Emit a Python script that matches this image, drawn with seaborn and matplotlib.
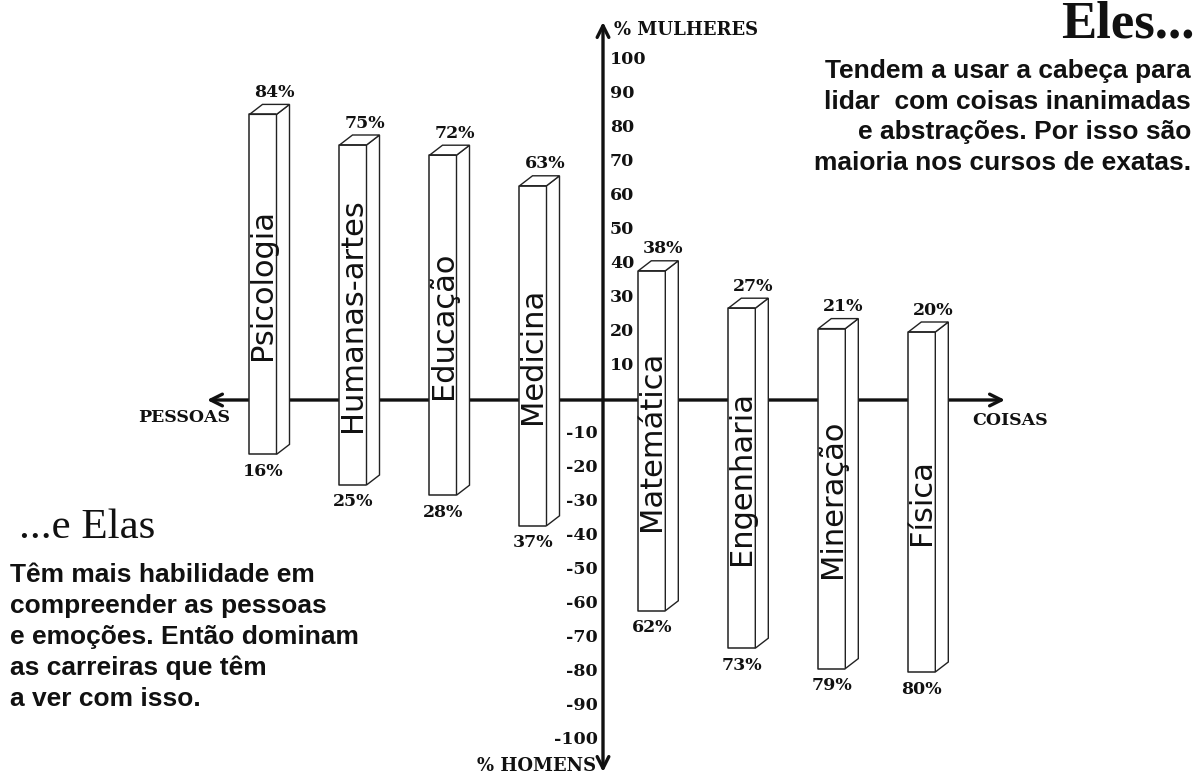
import numpy as np
import pandas as pd
import matplotlib
matplotlib.use("Agg")
import matplotlib.pyplot as plt
import seaborn as sns

# dados: % de mulheres (acima) e % de homens (abaixo) por curso
cursos = ["Psicologia", "Humanas-artes", "Educação", "Medicina",
          "Matemática", "Engenharia", "Mineração", "Física"]
mulheres = [84, 75, 72, 63, 38, 27, 21, 20]
homens = [16, 25, 28, 37, 62, 73, 79, 80]
ticks_pos = [10, 20, 30, 40, 50, 60, 70, 80, 90, 100]
ticks_neg = [-10, -20, -30, -40, -50, -60, -70, -80, -90, -100]

texto_eles = ("Tendem a usar a cabeça para\nlidar  com coisas inanimadas\n"
              "e abstrações. Por isso são\nmaioria nos cursos de exatas.")
texto_elas = ("Têm mais habilidade em\ncompreender as pessoas\n"
              "e emoções. Então dominam\nas carreiras que têm\na ver com isso.")

# layout em pixels da imagem -> unidades de dados
W, H = 1196, 774
X0, UX = 263, 90      # centro da 1a barra, px por posicao
Y0, UY = 400, 3.4     # linha do zero, px por ponto percentual


def px_x(px):
    return (px - X0) / UX


def px_y(py):
    return (Y0 - py) / UY


gap = 0.32  # espaco extra onde passa o eixo vertical
pos = np.arange(len(cursos)) + gap * (np.arange(len(cursos)) >= 4)
df = pd.DataFrame({"curso": cursos, "pos": pos,
                   "mulheres": mulheres, "homens_neg": [-h for h in homens]})

sns.set_theme(style="white")
SERIF_B = dict(family="DejaVu Serif", weight="bold", color="#111111")

fig = plt.figure(figsize=(W / 100, H / 100), dpi=100)
ax = fig.add_axes([0, 0, 1, 1])

# faces frontais das barras
for col in ["mulheres", "homens_neg"]:
    sns.barplot(data=df, x="pos", y=col, native_scale=True, width=0.3,
                color="white", saturation=1, linewidth=0, errorbar=None,
                ax=ax, zorder=3)

hw = 0.15
ddx, ddy = 13 / UX, 10 / UY
ec = "#222222"
for p, w, h, nome in zip(pos, mulheres, homens, cursos):
    x0, x1, t, b = p - hw, p + hw, w, -h
    # face lateral e topo (efeito 3D)
    ax.fill([x1, x1, x1 + ddx, x1 + ddx], [b, t, t + ddy, b + ddy],
            facecolor="white", edgecolor=ec, lw=1.0, zorder=3)
    ax.fill([x0, x0 + ddx, x1 + ddx, x1], [t, t + ddy, t + ddy, t],
            facecolor="white", edgecolor=ec, lw=1.0, zorder=3)
    ax.plot([x1, x0, x0, x1], [t, t, b, b], color=ec, lw=1.1, zorder=4)
    ax.text(p, (w - h) / 2, nome, rotation=90, ha="center", va="center",
            fontsize=22, family="DejaVu Sans", color="#111111", zorder=5)
    ax.text(p + ddx * 0.9, w + ddy + 3.5, f"{w}%", ha="center", va="center",
            fontsize=12.5, zorder=5, **SERIF_B)
    ax.text(p, -h - 5, f"{h}%", ha="center", va="center",
            fontsize=12.5, zorder=5, **SERIF_B)

# eixos com setas
xa = px_x(603)
seta = dict(arrowstyle="<->,head_length=0.7,head_width=0.35",
            lw=2.4, color="#111111", shrinkA=0, shrinkB=0)
ax.annotate("", xy=(px_x(207), 0), xytext=(px_x(1005), 0),
            arrowprops=seta, zorder=1)
ax.annotate("", xy=(xa, px_y(22)), xytext=(xa, px_y(772)),
            arrowprops=seta, zorder=1)

for v in ticks_pos:
    ax.text(px_x(610), v, str(v), ha="left", va="center", fontsize=12.5, **SERIF_B)
for v in ticks_neg:
    ax.text(px_x(598), v, str(v), ha="right", va="center", fontsize=12.5, **SERIF_B)

ax.text(px_x(614), px_y(30), "% MULHERES", ha="left", va="center", fontsize=13, **SERIF_B)
ax.text(px_x(596), px_y(766), "% HOMENS", ha="right", va="center", fontsize=13, **SERIF_B)
ax.text(px_x(184), px_y(418), "PESSOAS", ha="center", va="center", fontsize=12.5, **SERIF_B)
ax.text(px_x(1010), px_y(421), "COISAS", ha="center", va="center", fontsize=12.5, **SERIF_B)

# textos explicativos
ax.text(1195 / W, 1 - 37 / H, "Eles...", transform=ax.transAxes, ha="right",
        va="baseline", fontsize=38, family="Liberation Serif", weight="bold",
        color="#111111")
ax.text(1191 / W, 1 - 117 / H, texto_eles, transform=ax.transAxes, ha="right",
        va="center", multialignment="right", fontsize=19, linespacing=1.36,
        family="Liberation Sans", weight="bold", color="#111111")
ax.text(19 / W, 1 - 538 / H, "...e Elas", transform=ax.transAxes, ha="left",
        va="baseline", fontsize=31, family="Liberation Serif", color="#111111")
ax.text(10 / W, 1 - 637 / H, texto_elas, transform=ax.transAxes, ha="left",
        va="center", multialignment="left", fontsize=19, linespacing=1.36,
        family="Liberation Sans", weight="bold", color="#111111")

ax.set_xlim(px_x(0), px_x(W))
ax.set_ylim(px_y(H), px_y(0))
ax.set_axis_off()

fig.savefig("out.png", dpi=100, facecolor="white")
